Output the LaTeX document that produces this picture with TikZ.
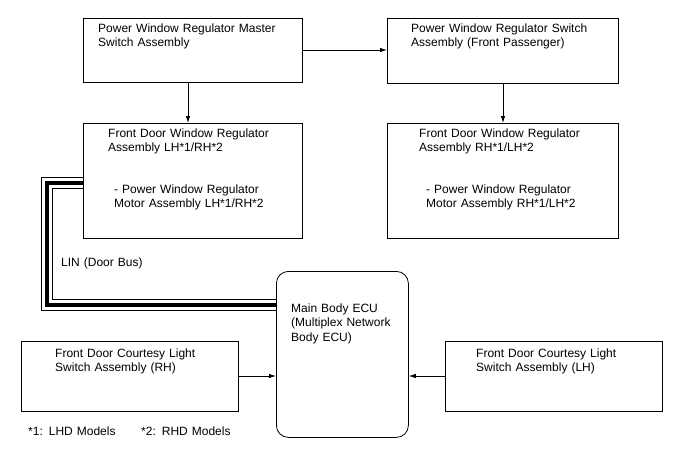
\documentclass[tikz,border=0pt]{standalone}
\usepackage{fontspec}
\setmainfont{Liberation Sans}
\usetikzlibrary{arrows.meta}
\begin{document}
\begin{tikzpicture}[x=1pt,y=-1pt,
  box/.style={draw=black,line width=0.8pt,fill=white,anchor=north west,inner sep=0pt},
  lbl/.style={anchor=base west,inner sep=0pt,align=left,text width=230pt,
    font=\fontsize{12}{14.5}\selectfont},
  conn/.style={line width=0.8pt,-{Latex[length=7pt,width=4.5pt]}}]
\useasboundingbox (0,0) rectangle (688,463);
% LIN bus
\coordinate (l1) at (83,183);
\coordinate (l2) at (47,183);
\coordinate (l3) at (47,305);
\coordinate (l4) at (276,305);
\draw[line width=12.5pt,black] (l1) -- (l2) -- (l3) -- (l4);
\draw[line width=10.5pt,white] (l1) -- (l2) -- (l3) -- (l4);
\draw[line width=4pt,black] (l1) -- (l2) -- (l3) -- (l4);
% boxes
\node[box,minimum width=219pt,minimum height=64pt] (master) at (83,18) {};
\node[box,minimum width=231pt,minimum height=65pt] (pass) at (387,18) {};
\node[box,minimum width=219pt,minimum height=115pt] (fdl) at (83,123) {};
\node[box,minimum width=231pt,minimum height=115pt] (fdr) at (387,123) {};
\node[box,rounded corners=12pt,minimum width=132pt,minimum height=166pt] (ecu) at (276,271) {};
\node[box,minimum width=217pt,minimum height=70pt] (crh) at (21,341) {};
\node[box,minimum width=217pt,minimum height=70pt] (clh) at (445,341) {};
% texts
\node[lbl] (tmaster) at (98,32) {Power Window Regulator Master\\Switch Assembly};
\node[lbl] (tpass) at (411,32) {Power Window Regulator Switch\\Assembly (Front Passenger)};
\node[lbl] (tfdl) at (108,137) {Front Door Window Regulator\\Assembly LH*1/RH*2};
\node[lbl] (tfdl2) at (114,193) {- Power Window Regulator\\Motor Assembly LH*1/RH*2};
\node[lbl] (tfdr) at (419,137) {Front Door Window Regulator\\Assembly RH*1/LH*2};
\node[lbl] (tfdr2) at (426,193) {- Power Window Regulator\\Motor Assembly RH*1/LH*2};
\node[lbl] (tecu) at (291,312) {Main Body ECU\\(Multiplex Network\\Body ECU)};
\node[lbl] (tcrh) at (55,357) {Front Door Courtesy Light\\Switch Assembly (RH)};
\node[lbl] (tclh) at (476,357) {Front Door Courtesy Light\\Switch Assembly (LH)};
\node[lbl] (tlin) at (61,266) {LIN (Door Bus)};
\node[lbl] (fn1) at (28,435) {*1: LHD Models};
\node[lbl] (fn2) at (141,435) {*2: RHD Models};
% connectors
\draw[conn] (master.east |- 0,50) -- (pass.west |- 0,50);
\draw[conn] (master.south -| 188,0) -- (fdl.north -| 188,0);
\draw[conn] (pass.south -| 503,0) -- (fdr.north -| 503,0);
\draw[conn] (crh.east |- 0,376) -- (ecu.west |- 0,376);
\draw[conn] (clh.west |- 0,376) -- (ecu.east |- 0,376);
\end{tikzpicture}
\end{document}
